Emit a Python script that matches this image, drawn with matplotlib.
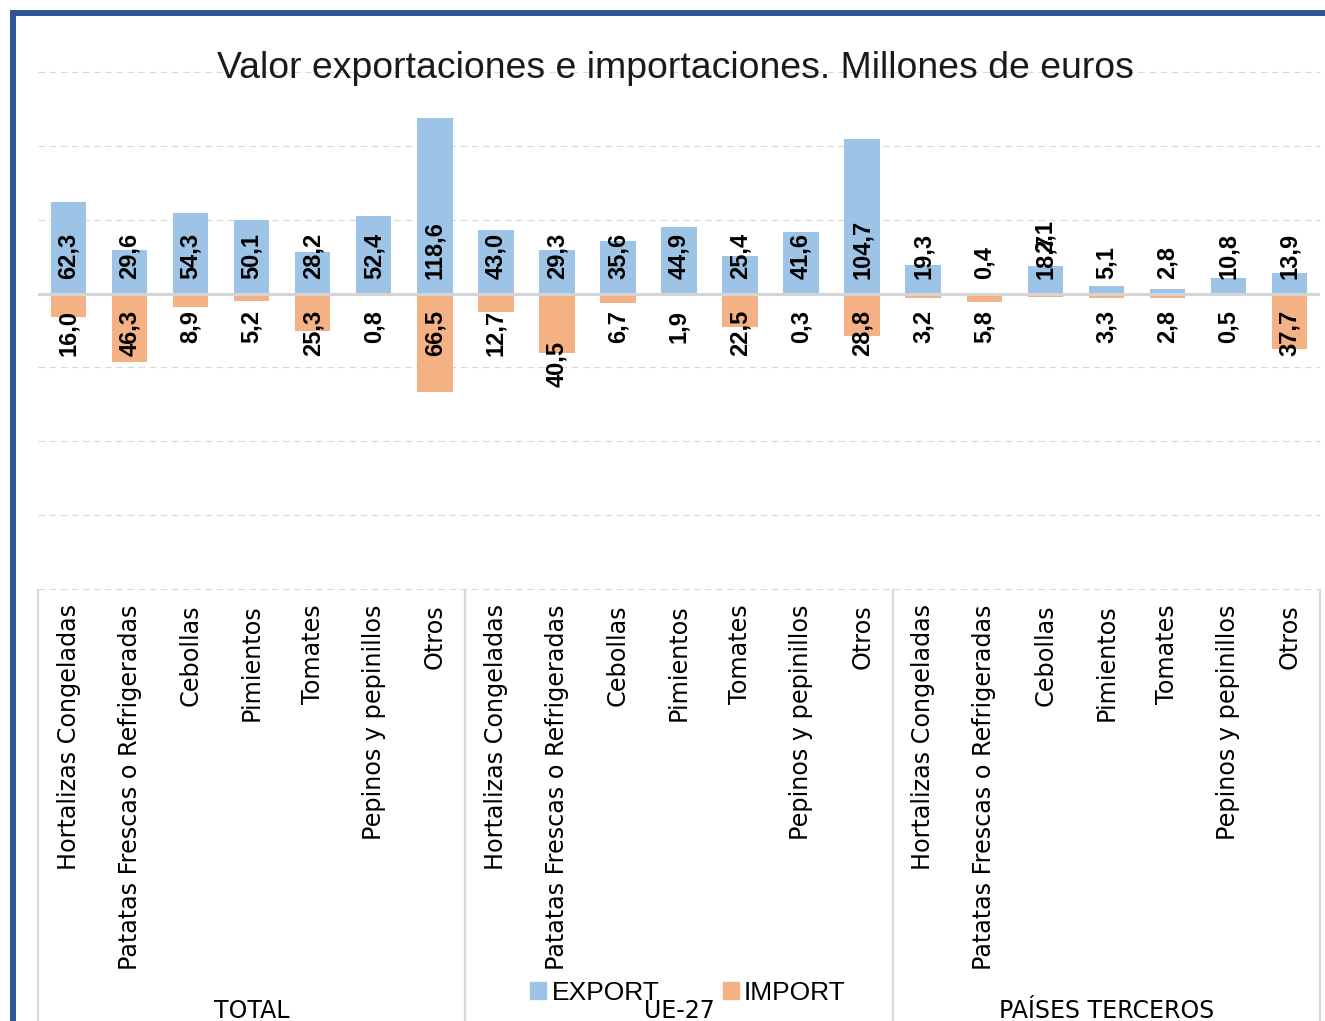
import matplotlib
matplotlib.use("Agg")
import matplotlib.pyplot as plt
import matplotlib.transforms as mtransforms
from matplotlib.patches import Rectangle, Patch
import numpy as np

# ---------------- data ----------------
title = "Valor exportaciones e importaciones. Millones de euros"
products = ["Hortalizas Congeladas", "Patatas Frescas o Refrigeradas", "Cebollas",
            "Pimientos", "Tomates", "Pepinos y pepinillos", "Otros"]
groups = ["TOTAL", "UE-27", "PAÍSES TERCEROS"]
export_total = [62.3, 29.6, 54.3, 50.1, 28.2, 52.4, 118.6]
import_total = [16.0, 46.3, 8.9, 5.2, 25.3, 0.8, 66.5]
export_ue = [43.0, 29.3, 35.6, 44.9, 25.4, 41.6, 104.7]
import_ue = [12.7, 40.5, 6.7, 1.9, 22.5, 0.3, 28.8]
export_pt = [19.3, 0.4, 18.7, 5.1, 2.8, 10.8, 13.9]
import_pt = [3.2, 5.8, 2.1, 3.3, 2.8, 0.5, 37.7]
series_names = ["EXPORT", "IMPORT"]

# ---------------- build ----------------
exports = np.array(export_total + export_ue + export_pt)
imports = np.array(import_total + import_ue + import_pt)
labels = products * len(groups)
n = len(labels)
x = np.arange(n)

W, H = 1325, 1021
fig = plt.figure(figsize=(W / 100, H / 100), dpi=100)
fig.patch.set_facecolor("white")

ax = fig.add_axes([38 / W, 1 - 589 / H, (1320 - 38) / W, (589 - 72) / H])
ax.set_xlim(-0.5, n - 0.5)
ax.set_ylim(-200, 150)

c_exp = "#9DC3E6"
c_imp = "#F4B183"
grid_c = "#D9D9D9"

for yv in np.arange(-200, 151, 50):
    if yv == 0:
        continue
    ax.axhline(yv, color=grid_c, lw=0.8, ls=(0, (6, 4)), zorder=0.5, clip_on=False)

bw = 0.58
ax.bar(x, exports, width=bw, color=c_exp, zorder=2, label=series_names[0])
ax.bar(x, -imports, width=bw, color=c_imp, zorder=2, label=series_names[1])
ax.axhline(0, color="#D4D4D4", lw=2.2, zorder=3)

def fmt(v):
    return f"{v:.1f}".replace(".", ",")

lab_font = dict(family="Liberation Sans", fontsize=17, fontweight="bold", color="black")
# label nudges (points) for a few overlapping labels in the original
imp_extra = {8: 22, 16: -55}
for i in range(n):
    ax.annotate(fmt(exports[i]), (x[i], 0), xytext=(0, 10.5), textcoords="offset points",
                rotation=90, ha="center", va="bottom", zorder=5, **lab_font)
    extra = imp_extra.get(i, 0)
    if extra < 0:
        ax.annotate(fmt(imports[i]), (x[i], 0), xytext=(0, -extra - 26), textcoords="offset points",
                    rotation=90, ha="center", va="bottom", zorder=5, **lab_font)
    else:
        ax.annotate(fmt(imports[i]), (x[i], 0), xytext=(0, -12 - extra), textcoords="offset points",
                    rotation=90, ha="center", va="top", zorder=5, **lab_font)

ax.set_xticks(x)
ax.set_xticklabels(labels, rotation=90, family="DejaVu Sans", fontsize=17.2, va="top", ha="center")
ax.tick_params(axis="x", length=0, pad=11)
ax.set_yticks([])
for s in ax.spines.values():
    s.set_visible(False)

# group separators and group labels
trans = mtransforms.blended_transform_factory(ax.transData, fig.transFigure)
for b in [-0.5, 6.5, 13.5, 20.5]:
    ax.plot([b, b], [1 - 590 / H, -0.05], color=grid_c, lw=1.6, transform=trans, clip_on=False, zorder=1)
for gi, g in enumerate(groups):
    ax.text(gi * 7 + 3, 1 - 1011 / H, g, transform=trans, ha="center", va="center",
            family="DejaVu Sans", fontsize=17, color="black")

# title
fig.text(675 / W, 1 - 69 / H, title, ha="center", va="center",
         family="Liberation Sans", fontsize=26.9, color="#1a1a1a")

# legend
handles = [Patch(color=c_exp), Patch(color=c_imp)]
fig.legend(handles, series_names, loc="center", bbox_to_anchor=(688 / W, 1 - 993 / H),
           ncol=2, frameon=False, prop=dict(family="Liberation Sans", size=19),
           handlelength=0.6, handleheight=0.6, handletextpad=0.2, columnspacing=2.4)

# outer blue frame
fig.patches.append(Rectangle((13 / W, -0.5), 2, 1 - 13 / H + 0.5, fill=False,
                             edgecolor="#2F5597", lw=4.3, transform=fig.transFigure))

fig.savefig("out.png", dpi=100, facecolor="white")
